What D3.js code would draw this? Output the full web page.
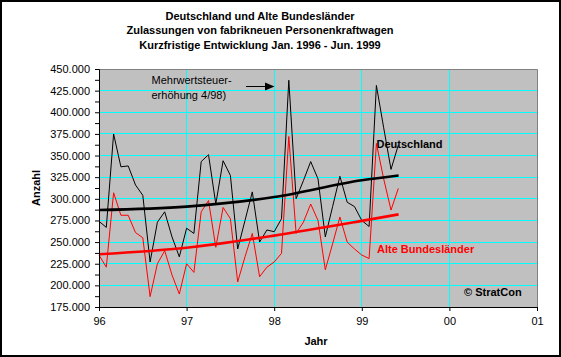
<!DOCTYPE html>
<html><head><meta charset="utf-8">
<script src="https://cdn.jsdelivr.net/npm/d3@7/dist/d3.min.js"></script>
<style>
html,body{margin:0;padding:0;background:#fff;}
text{font-family:"Liberation Sans",Arial,sans-serif;}
</style></head>
<body><svg id="c" width="561" height="357"></svg>
<script>
const titleLines = ["Deutschland und Alte Bundesländer","Zulassungen von fabrikneuen Personenkraftwagen","Kurzfristige Entwicklung Jan. 1996 - Jun. 1999"];
const startYear = 1996;
const yearLabels = ["96","97","98","99","00","01"];
const yearTicks = [1996,1997,1998,1999,2000,2001];
const yMajor = [175000,200000,225000,250000,275000,300000,325000,350000,375000,400000,425000,450000];
const yMinor = [187500,212500,237500,262500,287500,312500,337500,362500,387500,412500,437500];
const deutschland = [274000,267000,375000,337000,338000,316000,304000,227000,273000,285000,256000,233000,
  266000,260000,343000,351000,294000,344000,327000,242000,275000,308000,250000,264000,
  262000,277000,437000,300000,321000,343000,323000,256000,291000,326000,296000,291000,
  275000,268000,431000,382000,334000,362000];
const alteBL = [235000,221000,307000,281000,281000,261000,255000,187000,225000,240000,212000,190000,
  225000,215000,285000,298000,244000,290000,277000,204000,233000,260000,210000,221000,
  227000,237000,372000,260000,273000,294000,275000,218000,248000,279000,250000,242000,
  235000,231000,364000,323000,287000,312000];
const trendX = [1996,1997,1998,1999,1999.42];
const trendD = [287000,291000,302000,321500,327000];
const trendA = [236000,243500,257500,274500,282000];

const svg = d3.select("#c");
const L=99,R=537,T=69,B=307;
const x = d3.scaleLinear().domain([1996,2001]).range([L,R]);
const y = d3.scaleLinear().domain([175000,450000]).range([B,T]);
const loc = d3.formatLocale({decimal:",",thousands:".",grouping:[3],currency:["","€"]});
const fmt = loc.format(",.0f");

svg.append("rect").attr("x",1).attr("y",1).attr("width",559).attr("height",355)
  .attr("fill","#fff").attr("stroke","#000").attr("stroke-width",2);

svg.selectAll("text.title").data(titleLines).enter().append("text")
  .attr("x",260).attr("y",(d,i)=>19.5+i*14.6).attr("text-anchor","middle")
  .attr("font-size",11).attr("font-weight","bold").text(d=>d);

svg.append("rect").attr("x",L).attr("y",T).attr("width",R-L).attr("height",B-T).attr("fill","#c0c0c0");
// gridlines
svg.append("g").selectAll("line").data(yMajor.slice(1,-1)).enter().append("line")
  .attr("x1",L).attr("x2",R).attr("y1",d=>Math.floor(y(d))+0.5).attr("y2",d=>Math.floor(y(d))+0.5)
  .attr("stroke","#00ffff").attr("stroke-width",1);
svg.append("g").selectAll("line").data(yearTicks.slice(1,-1)).enter().append("line")
  .attr("y1",T).attr("y2",B).attr("x1",d=>Math.floor(x(d))+0.5).attr("x2",d=>Math.floor(x(d))+0.5)
  .attr("stroke","#00ffff").attr("stroke-width",1);
// plot border top/right
svg.append("path").attr("d",`M${L},${T+0.5}H${R+0.5}V${B}`).attr("fill","none").attr("stroke","#808080");

// annotations (under the lines)
const ann = svg.append("g").attr("font-size",11);
ann.append("text").attr("x",151.5).attr("y",84).text("Mehrwertsteuer-");
ann.append("text").attr("x",151.5).attr("y",98.5).text("erhöhung 4/98)");
svg.append("line").attr("x1",246).attr("x2",266).attr("y1",86.5).attr("y2",86.5).attr("stroke","#000").attr("stroke-width",1);
svg.append("path").attr("d","M265,82.5L274.5,86.5L265,90.5Z").attr("fill","#000");
svg.append("text").attr("x",376.5).attr("y",148.3).attr("font-size",11).attr("font-weight","bold").attr("fill","#000").text("Deutschland");
svg.append("text").attr("x",377).attr("y",253).attr("font-size",11).attr("font-weight","bold").attr("fill","#ff0000").text("Alte Bundesländer");
svg.append("text").attr("x",464).attr("y",296.3).attr("font-size",11).attr("font-weight","bold").attr("fill","#000").text("© StratCon");

// series
const line = d3.line().x((d,i)=>x(startYear+i/12)).y(d=>y(d));
svg.append("path").datum(deutschland).attr("d",line).attr("fill","none").attr("stroke","#000").attr("stroke-width",1);
svg.append("path").datum(alteBL).attr("d",line).attr("fill","none").attr("stroke","#ff0000").attr("stroke-width",1);
const tline = d3.line().x((d,i)=>x(trendX[i])).y(d=>y(d)).curve(d3.curveMonotoneX);
svg.append("path").datum(trendD).attr("d",tline).attr("fill","none").attr("stroke","#000").attr("stroke-width",2.6);
svg.append("path").datum(trendA).attr("d",tline).attr("fill","none").attr("stroke","#ff0000").attr("stroke-width",2.6);

// axes
const yAx = svg.append("g").attr("transform",`translate(${L},0)`)
  .call(d3.axisLeft(y).tickValues(yMajor).tickSize(4).tickPadding(5).tickFormat(fmt));
svg.append("g").attr("transform",`translate(${L},0)`)
  .call(d3.axisLeft(y).tickValues(yMinor).tickSize(4).tickFormat(""))
  .call(g=>g.select(".domain").remove());
const xAx = svg.append("g").attr("transform",`translate(0,${B})`)
  .call(d3.axisBottom(x).tickValues(yearTicks).tickSize(4).tickPadding(6).tickFormat((d,i)=>yearLabels[i]));
[yAx,xAx].forEach(g=>{
  g.selectAll("text").attr("font-size",11).attr("font-family","Liberation Sans, Arial, sans-serif").attr("fill","#000");
  g.selectAll("line,path").attr("stroke","#000");
});
svg.append("text").attr("x",316).attr("y",345).attr("text-anchor","middle").attr("font-size",11).attr("font-weight","bold").text("Jahr");
svg.append("text").attr("transform","translate(40,188) rotate(-90)").attr("text-anchor","middle").attr("font-size",11).attr("font-weight","bold").text("Anzahl");
</script></body></html>
